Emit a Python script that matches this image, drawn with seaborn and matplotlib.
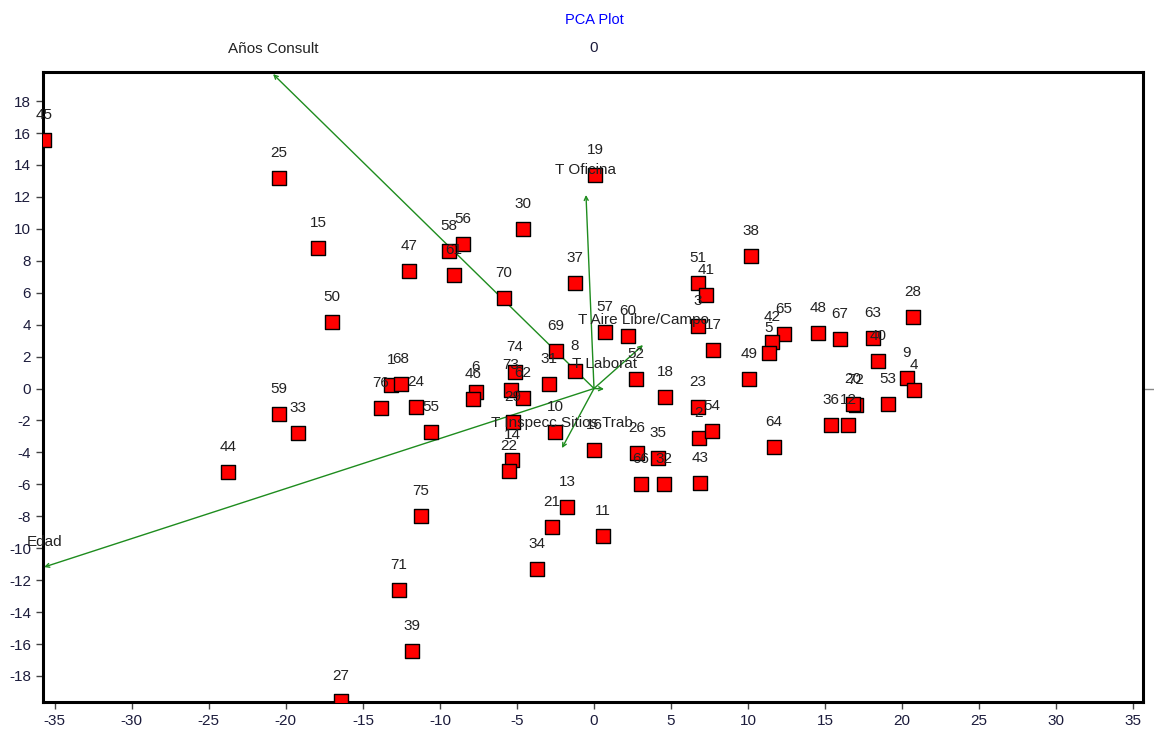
import pandas as pd
import matplotlib
matplotlib.use("Agg")
import matplotlib.pyplot as plt
from matplotlib.ticker import MultipleLocator
import seaborn as sns

ids = ["45", "25", "15", "50", "47", "58", "56", "61", "30", "70", "37", "19",
       "38", "51", "41", "3", "17", "48", "67", "63", "40", "28", "9", "4",
       "53", "72", "20", "36", "12", "65", "42", "5", "49", "64", "18", "23",
       "2", "54", "35", "32", "66", "26", "43", "57", "60", "69", "8", "31",
       "52", "74", "73", "62", "29", "14", "22", "10", "16", "6", "46", "1",
       "68", "76", "24", "55", "59", "33", "44", "75", "71", "39", "27", "34",
       "21", "13", "11"]
pc1 = [-35.69, -20.44, -17.91, -17.0, -12.0, -9.41, -8.50, -9.09, -4.61, -5.84, -1.23, 0.06,
       10.19, 6.75, 7.27, 6.75, 7.72, 14.54, 15.96, 18.1, 18.43, 20.7, 20.31, 20.77,
       19.08, 17.0, 16.81, 15.38, 16.48, 12.33, 11.55, 11.36, 10.06, 11.68, 4.61, 6.75,
       6.81, 7.66, 4.15, 4.54, 3.05, 2.79, 6.88, 0.71, 2.21, -2.47, -1.23, -2.92,
       2.73, -5.13, -5.39, -4.61, -5.26, -5.32, -5.52, -2.53, 0.0, -7.66, -7.85, -13.17,
       -12.52, -13.82, -11.55, -10.58, -20.44, -19.21, -23.75, -11.23, -12.65, -11.81, -16.42, -3.70,
       -2.73, -1.75, 0.58]
pc2 = [15.56, 13.18, 8.80, 4.16, 7.36, 8.61, 9.05, 7.11, 9.99, 5.67, 6.61, 13.37,
       8.30, 6.61, 5.85, 3.91, 2.41, 3.48, 3.10, 3.16, 1.72, 4.48, 0.66, -0.09,
       -0.97, -1.03, -0.97, -2.29, -2.29, 3.41, 2.91, 2.22, 0.59, -3.66, -0.53, -1.16,
       -3.10, -2.66, -4.35, -5.98, -5.98, -4.04, -5.92, 3.54, 3.29, 2.35, 1.10, 0.28,
       0.59, 1.03, -0.09, -0.59, -2.10, -4.48, -5.17, -2.72, -3.85, -0.22, -0.66, 0.22,
       0.28, -1.22, -1.16, -2.72, -1.60, -2.79, -5.23, -7.98, -12.62, -16.44, -19.57, -11.30,
       -8.67, -7.42, -9.24]

# variable loadings (arrow tips)
var_names = ["Años Consult", "Edad", "T Oficina", "T Aire Libre/Campo",
             "T Laborat", "T Inspecc Sitios Trab"]
var_x = [-20.83, -35.69, -0.52, 3.18, 0.65, -2.08]
var_y = [19.69, -11.18, 12.12, 2.72, -0.03, -3.73]

x_ticks = list(range(-35, 40, 5))
y_ticks = list(range(-18, 20, 2))

df = pd.DataFrame({"id": ids, "PC1": pc1, "PC2": pc2})

sns.set_style("white")
plt.rcParams["font.family"] = ["Liberation Sans", "DejaVu Sans"]
plt.rcParams["axes.unicode_minus"] = False

fig = plt.figure(figsize=(11.54, 7.31), dpi=100)
ax = fig.add_axes([43 / 1154, 29 / 731, 1100 / 1154, 630 / 731])

# loading vectors
for name, vx, vy in zip(var_names, var_x, var_y):
    ax.annotate("", xy=(vx, vy), xytext=(0, 0),
                arrowprops=dict(arrowstyle="->", color="#1e8c1e", lw=1.0,
                                mutation_scale=7, shrinkA=0, shrinkB=0))
    ax.annotate(name, xy=(vx, vy), xytext=(0, 25), textcoords="offset pixels",
                ha="center", va="center", fontsize=11, color="#222222",
                annotation_clip=False, zorder=6)

sns.scatterplot(data=df, x="PC1", y="PC2", marker="s", color="#ff0000",
                edgecolor="black", linewidth=1.0, s=100, ax=ax, zorder=4,
                legend=False)

for _, r in df.iterrows():
    ax.annotate(r["id"], xy=(r["PC1"], r["PC2"]), xytext=(0, 25),
                textcoords="offset pixels", ha="center", va="center",
                fontsize=11, color="#222222", zorder=5)

ax.set_xlim(-35.76, 35.63)
ax.set_ylim(-19.63, 19.82)
ax.set_xticks(x_ticks)
ax.set_yticks(y_ticks)
ax.xaxis.set_minor_locator(MultipleLocator(1.25))
ax.yaxis.set_minor_locator(MultipleLocator(0.5))
ax.tick_params(which="major", direction="out", length=5, width=1,
               labelsize=11, labelcolor="#1c1c3c", color="#444444")
ax.tick_params(which="minor", direction="out", length=3, width=0.8, color="#666666")
ax.tick_params(left=True, bottom=True)
ax.set_xlabel("")
ax.set_ylabel("")
for sp in ax.spines.values():
    sp.set_linewidth(2.2)
    sp.set_color("black")

top = ax.secondary_xaxis("top")
top.set_xticks([0])
top.tick_params(length=0, pad=12, labelsize=11, labelcolor="#1c1c3c")
right = ax.secondary_yaxis("right")
right.set_yticks([0])
right.set_yticklabels([""])
right.tick_params(length=8, width=1, color="#888888")

fig.text(594 / 1154, 1 - 20 / 731, "PCA Plot", color="#0000ff",
         fontsize=10.5, ha="center", va="center")

fig.savefig("out.png", dpi=100)
